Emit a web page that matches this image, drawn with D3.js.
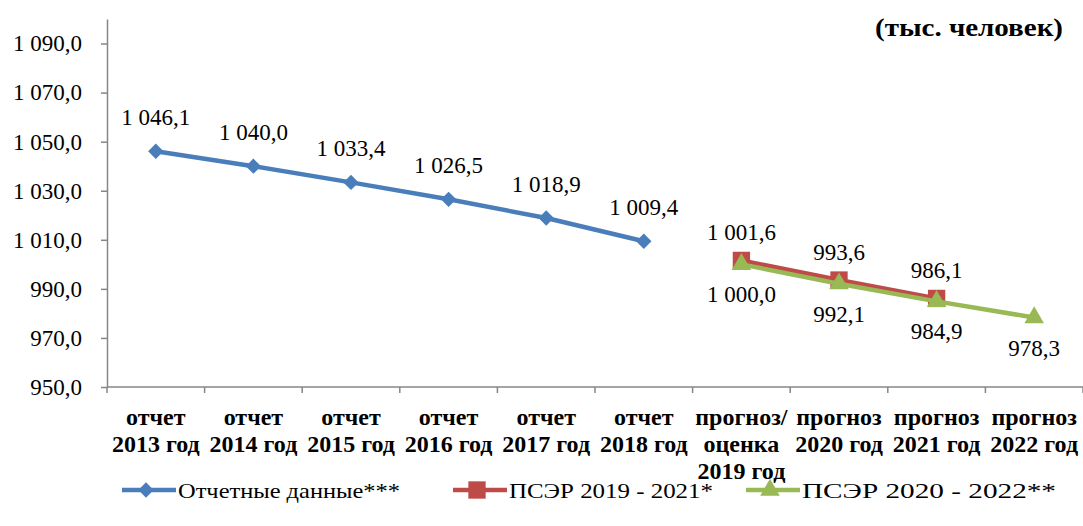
<!DOCTYPE html>
<html>
<head>
<meta charset="utf-8">
<script src="https://cdn.jsdelivr.net/npm/d3@7"></script>
<style>
  body { margin: 0; background: #fff; }
</style>
</head>
<body>
<div id="chart"></div>
<script>
// categories (x axis), each label split into lines
const categories = [
  ["отчет", "2013 год"],
  ["отчет", "2014 год"],
  ["отчет", "2015 год"],
  ["отчет", "2016 год"],
  ["отчет", "2017 год"],
  ["отчет", "2018 год"],
  ["прогноз/", "оценка", "2019 год"],
  ["прогноз", "2020 год"],
  ["прогноз", "2021 год"],
  ["прогноз", "2022 год"]
];

// series values, null = no point
const reported = [1046.1, 1040.0, 1033.4, 1026.5, 1018.9, 1009.4, null, null, null, null];
const pser2019 = [null, null, null, null, null, null, 1001.6, 993.6, 986.1, null];
const pser2020 = [null, null, null, null, null, null, 1000.0, 992.1, 984.9, 978.3];

const seriesNames = ["Отчетные данные***", "ПСЭР 2019 - 2021*", "ПСЭР 2020 - 2022**"];
const yTicks = [950, 970, 990, 1010, 1030, 1050, 1070, 1090];
const unitLabel = "(тыс. человек)";

const width = 1083, height = 526;
const margin = { top: 19, right: 0, bottom: 139, left: 107 };
const serif = "Liberation Serif";

const fmt = v => {
  const s = v.toFixed(1).replace(".", ",");
  const [int, dec] = s.split(",");
  return int.replace(/\B(?=(\d{3})+(?!\d))/g, " ") + "," + dec;
};

const svg = d3.select("#chart").append("svg")
  .attr("width", width)
  .attr("height", height)
  .attr("font-family", serif);

const x = d3.scaleBand()
  .domain(d3.range(categories.length))
  .range([margin.left, width - margin.right])
  .padding(0);

const y = d3.scaleLinear()
  .domain([950, 1100])
  .range([height - margin.bottom, margin.top]);

const axisColor = "#868686";

// y axis
svg.append("g")
  .attr("transform", `translate(${margin.left},0)`)
  .call(d3.axisLeft(y).tickValues(yTicks).tickSize(6).tickPadding(19)
    .tickFormat(fmt).tickSizeOuter(0))
  .call(g => g.select(".domain").attr("stroke", axisColor).attr("stroke-width", 1.5))
  .call(g => g.selectAll(".tick line").attr("stroke", axisColor).attr("stroke-width", 1.5))
  .call(g => g.selectAll(".tick text")
    .attr("font-family", serif)
    .attr("font-size", 23)
    .attr("fill", "#000"));

// x axis: baseline and boundary ticks
const xAxisG = svg.append("g")
  .attr("transform", `translate(0,${y(950)})`);
xAxisG.append("line")
  .attr("x1", margin.left).attr("x2", width - margin.right)
  .attr("stroke", axisColor).attr("stroke-width", 1.5);
xAxisG.selectAll("line.tick")
  .data(d3.range(categories.length + 1))
  .join("line")
  .attr("class", "tick")
  .attr("x1", i => i < categories.length ? x(i) : x(i - 1) + x.bandwidth())
  .attr("x2", i => i < categories.length ? x(i) : x(i - 1) + x.bandwidth())
  .attr("y1", 0).attr("y2", 6)
  .attr("stroke", axisColor).attr("stroke-width", 1.5);

xAxisG.selectAll("text")
  .data(categories)
  .join("text")
  .attr("text-anchor", "middle")
  .attr("font-family", serif)
  .attr("font-weight", "bold")
  .attr("font-size", 24)
  .attr("fill", "#000")
  .each(function (lines, i) {
    d3.select(this).selectAll("tspan")
      .data(lines)
      .join("tspan")
      .attr("x", x(i) + x.bandwidth() / 2)
      .attr("y", (d, j) => 38 + j * 27)
      .text(d => d);
  });

// series
const series = [
  { name: seriesNames[0], values: reported, color: "#4A7EBB", marker: "diamond", labelDy: -26 },
  { name: seriesNames[1], values: pser2019, color: "#BE4B48", marker: "square", labelDy: -20 },
  { name: seriesNames[2], values: pser2020, color: "#98B954", marker: "triangle", labelDy: 38 }
];

const cx = i => x(i) + x.bandwidth() / 2;
const symbols = {
  diamond: d3.symbol().type(d3.symbolDiamond2).size(150),
  square: d3.symbol().type(d3.symbolSquare).size(300),
  triangle: d3.symbol().type(d3.symbolTriangle).size(165)
};

const line = d3.line()
  .defined(d => d.v != null)
  .x(d => cx(d.i))
  .y(d => y(d.v));

series.forEach(s => {
  const pts = s.values.map((v, i) => ({ v, i }));
  const g = svg.append("g");
  g.append("path")
    .datum(pts)
    .attr("fill", "none")
    .attr("stroke", s.color)
    .attr("stroke-width", 4.5)
    .attr("stroke-linejoin", "round")
    .attr("d", line);
  g.selectAll("path.mark")
    .data(pts.filter(d => d.v != null))
    .join("path")
    .attr("class", "mark")
    .attr("transform", d => `translate(${cx(d.i)},${y(d.v)})`)
    .attr("d", symbols[s.marker])
    .attr("fill", s.color);
});

// data labels (drawn after lines)
series.forEach(s => {
  svg.append("g")
    .selectAll("text")
    .data(s.values.map((v, i) => ({ v, i })).filter(d => d.v != null))
    .join("text")
    .attr("x", d => cx(d.i))
    .attr("y", d => y(d.v) + s.labelDy)
    .attr("text-anchor", "middle")
    .attr("font-family", serif)
    .attr("font-size", 23)
    .attr("fill", "#000")
    .text(d => fmt(d.v));
});

// unit label
svg.append("text")
  .attr("x", 1063)
  .attr("y", 36)
  .attr("text-anchor", "end")
  .attr("font-family", serif)
  .attr("font-weight", "bold")
  .attr("font-size", 26)
  .attr("textLength", 188)
  .attr("lengthAdjust", "spacingAndGlyphs")
  .text(unitLabel);

// legend
const legendX = [122, 453, 746];
const legendW = [222, 204, 254];
const legend = svg.append("g")
  .selectAll("g")
  .data(series)
  .join("g")
  .attr("transform", (d, i) => `translate(${legendX[i]},490)`);
legend.append("line")
  .attr("x1", 0).attr("x2", 54)
  .attr("stroke", d => d.color)
  .attr("stroke-width", 4.5);
legend.append("path")
  .attr("transform", "translate(24,0)")
  .attr("d", d => symbols[d.marker]())
  .attr("fill", d => d.color);
legend.append("text")
  .attr("x", 56)
  .attr("y", 8)
  .attr("font-family", serif)
  .attr("font-size", 21)
  .attr("textLength", (d, i) => legendW[i])
  .attr("lengthAdjust", "spacingAndGlyphs")
  .text(d => d.name);
</script>
</body>
</html>
